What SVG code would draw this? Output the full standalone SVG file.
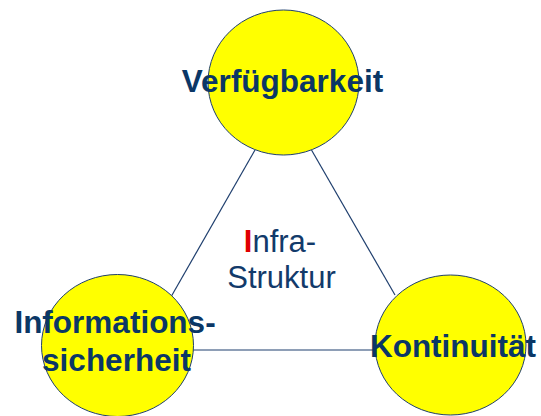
<svg xmlns="http://www.w3.org/2000/svg" width="541" height="416" viewBox="0 0 541 416">
  <style>
    .node { fill: #FFFF00; stroke: #1F3F6E; stroke-width: 1; }
    .edge { stroke: #1F3F6E; stroke-width: 1.2; fill: none; }
    .label { font-family: "Liberation Sans", Arial, sans-serif; font-weight: bold; font-size: 31.5px; fill: #0B3766; text-anchor: middle; }
    .center { font-family: "Liberation Sans", Arial, sans-serif; font-size: 31px; fill: #123A6A; text-anchor: middle; }
  </style>
  <rect width="541" height="416" fill="#FFFFFF"/>
  <g id="connectors">
    <line class="edge" x1="255" y1="150" x2="171.5" y2="296"/>
    <line class="edge" x1="311.5" y1="150" x2="395" y2="295"/>
    <line class="edge" x1="193" y1="350" x2="375" y2="350"/>
  </g>
  <g id="verfuegbarkeit">
    <ellipse class="node" cx="283.5" cy="82.5" rx="75.5" ry="72.5"/>
    <text class="label" x="282.5" y="92">Verfügbarkeit</text>
  </g>
  <g id="informationssicherheit">
    <ellipse class="node" cx="117.5" cy="345.5" rx="76" ry="71"/>
    <text class="label" x="115" y="333">Informations-</text>
    <text class="label" x="116.5" y="371">sicherheit</text>
  </g>
  <g id="kontinuitaet">
    <ellipse class="node" cx="450.5" cy="345" rx="75.5" ry="70"/>
    <text class="label" x="453" y="357">Kontinuität</text>
  </g>
  <g id="infrastruktur">
    <text class="center" x="280" y="252"><tspan fill="#E00000" font-weight="bold">I</tspan>nfra-</text>
    <text class="center" x="281.5" y="288">Struktur</text>
  </g>
</svg>
